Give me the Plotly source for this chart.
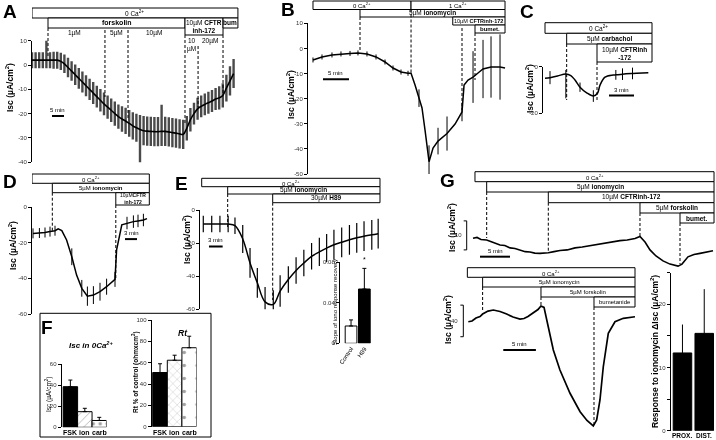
import plotly.graph_objects as go

W, H = 716, 440
FONT = "Liberation Sans, Arial, sans-serif"

# ---------------- data ----------------
# A: forskolin then CFTRinh-172 (time in min, Isc in uA/cm2, mean +- SEM)
tA = [0, 1.5, 3, 4.5, 6, 7.5, 9, 10.5, 12, 13.5, 15, 16.5, 18, 19.5, 21, 22.5, 24, 25.5, 27, 28.5,
      30, 31.5, 33, 34.5, 36, 37.5, 39, 40.5, 42, 43.5, 45, 46.5, 48, 49.5, 51, 52.5, 54, 55.5, 57, 58.5,
      60, 61.5, 63, 64.5, 66, 67.5, 69, 70.5, 72, 73.5, 75, 76.5, 78, 79.5, 81, 82.5, 84]
iscA = [2, 2, 2, 2, 2, 2, 2, 2, 1.5, 0.5,
        -1, -2.5, -4, -5.5, -7, -8.5, -10, -11.5, -13, -14.5,
        -16, -17.3, -18.6, -20, -21.2, -22.2, -23, -24, -25, -25.8,
        -26.5, -27, -27.2, -27.3, -27.4, -27.4, -27.3, -27.3, -27.5, -27.8,
        -28, -28.3, -28.5, -26, -22.5, -20, -18, -17, -16.2, -15.5,
        -14.8, -14, -13.5, -12.5, -9.5, -6.5, -3.5]
errA_up = [3.3, 3.3, 3.3, 3.3, 9, 3.3, 3.5, 3.5, 3.5, 3.8,
           4, 4, 4.2, 4.3, 4.3, 4.3, 4.4, 4.5, 4.5, 4.6,
           4.7, 4.8, 4.8, 5, 5, 5.2, 5.4, 5.5, 5.6, 5.8,
           6, 6, 6, 6, 6, 6, 11, 6, 6, 6,
           6, 6, 6, 5, 4.8, 4.5, 4.5, 4.5, 4.5, 4.5,
           4.5, 4.5, 4.8, 5, 5.5, 6, 6]
errA_dn = [3.3, 3.3, 3.3, 3.3, 3.3, 3.3, 3.5, 3.5, 3.5, 3.8,
           4, 4, 4.2, 4.3, 4.3, 4.3, 4.4, 4.5, 4.5, 4.6,
           4.7, 4.8, 4.8, 5, 5, 5.2, 5.4, 5.5, 5.6, 5.8,
           16, 6, 6, 6, 6, 6, 6, 6, 6, 6,
           6, 6, 6, 5, 4.8, 4.5, 4.5, 4.5, 4.5, 4.5,
           4.5, 4.5, 4.8, 5, 5.5, 6, 6]

# B: ionomycin in 0 Ca, then 1 Ca, CFTRinh-172, bumetanide
tB = [0, 1.73, 3.65, 5.38, 7.12, 8.65, 10.38, 12.12, 13.85, 15.38, 16.92, 18.27, 18.85, 19.62, 20.38,
      20.96, 21.54, 22.31, 23.08, 24.04, 25.77, 27.31, 28.65, 29.04, 29.81, 30.77, 31.73, 32.69,
      34.23, 35.96, 36.92]
iscB = [-4.6, -3.4, -2.6, -2.2, -2.0, -1.8, -2.2, -3.4, -5.4, -7.8, -9.4, -9.9, -9.9, -14.6, -19.8,
        -23.7, -32.5, -45.1, -39.7, -36.9, -33.9, -30.1, -25.3, -14.6, -12.6, -11.4, -9.8, -8.2,
        -7.4, -7.4, -7.8]
errB = [1, 1, 1, 1, 1, 1, 1, 1, 1, 1, 1, 1, 0, 0, 3.5,
        0, 0, 6.5, 0, 5.3, 6.8, 0, 3.7, 0, 0, 10.3, 0, 11.6,
        12.2, 13, 0]

# C: carbachol then CFTRinh-172
tC = [0, 0.6, 1.5, 2.5, 3.1, 3.6, 4.2, 5.0, 5.8, 6.3, 6.6, 7.2, 8.2, 8.5, 9.3, 10.5, 11.0, 12.4]
iscC = [-5.0, -4.7, -4.0, -3.1, -3.8, -5.7, -8.8, -11.2, -12.6, -11.4, -7.9, -4.5, -3.6, -3.5,
        -3.2, -2.9, -2.8, -2.6]
errC_up = [0, 2.8, 0, 1.7, 0, 0, 2, 0, 2.5, 0, 0, 0, 0, 2.1, 2.5, 2.5, 0, 0]
errC_dn = [0, 2.8, 0, 10.5, 0, 0, 2, 0, 2.5, 0, 0, 0, 0, 2.1, 2.5, 2.5, 0, 0]

# D: ionomycin then CFTRinh-172
tD = [0, 1.6, 3.0, 4.25, 5.5, 6.3, 7.2, 8.4, 9.7, 10.9, 12.2, 13.6, 15.1, 16.75, 18.4, 20.5, 20.9,
      22.2, 23.5, 25.1, 26.25, 27.6, 28.5]
iscD = [-14.8, -14.6, -14.3, -13.8, -13.3, -12.2, -13.2, -18.5, -27.9, -38.2, -45.6, -50, -49.4,
        -47.5, -44.7, -40.6, -24, -10, -9, -8.2, -7.8, -7.3, -6.5]
errD = [2.8, 2.8, 2.8, 2.8, 2.8, 0, 0, 0, 4.7, 0, 4.7, 5.4, 5, 5, 4.5, 4.2, 0,
        0, 3.5, 3.5, 3.5, 3.5, 0]

# E: ionomycin then H89
tE = [0.35, 2.2, 4.0, 5.8, 7.3, 9.0, 10.6, 12.2, 13.9, 15.7, 17.2, 19.0, 20.7, 22.4, 24.1, 25.8,
      27.4, 29.0, 30.7, 32.4, 34.0, 35.6, 37.3, 38.7]
iscE = [-8.4, -8.4, -8.4, -8.5, -9.5, -17.5, -32, -44, -55.5, -57, -49, -42, -36.5, -32, -28,
        -25.3, -23, -21, -19.5, -18, -16.8, -15.8, -15, -14.3]
errE = [5, 5, 5, 5, 5, 8.5, 9, 9, 9, 8.5, 9.5, 8, 8, 8, 8, 8.5, 8.5, 9, 9, 9, 9, 9, 9, 9]

# E inset: slope of ionomycin response recovery
slopeGroups = ["Control", "H89"]
slopeVals = [0.0171, 0.0536]
slopeErr = [0.006, 0.0204]

# F: Isc in 0 Ca and Rt
fGroups = ["FSK", "ion", "carb"]
iscF = [38.7, 14.9, 6.5]
iscF_err = [6.3, 3.2, 3]
rtF = [50.8, 62.3, 74]
rtF_err = [8.2, 4.7, 10.8]

# G: single traces (relative Isc) and proximal vs distal response
tGt = [0, 0.67, 1.33, 2.28, 3.17, 4.5, 5.3, 6.17, 7.0, 7.83, 8.7, 9.5, 10.3, 11.17, 12.55, 13.5,
       14.5, 15.7, 17, 18.2, 19.5, 20.7, 22, 23.2, 24.5, 25.7, 27, 27.83, 28.67, 29.5, 30.5, 31.67,
       32.83, 34.17, 34.83, 35.83, 36.83, 37.83, 39, 40]
iscGt = [0, 0.3, -0.4, -0.6, -1.3, -2.3, -2.5, -3.3, -3.5, -4.0, -4.6, -4.7, -5.1, -5.2, -5.0, -4.6,
         -4.2, -4.0, -3.3, -3.0, -2.5, -2.2, -1.6, -1.3, -0.8, -0.6, -0.1, 0.6, -1.3, -4.0, -6.1,
         -7.8, -8.9, -9.6, -8.9, -6.4, -5.6, -5.2, -4.7, -4.3]
tGb = [0, 0.57, 1.18, 1.8, 2.2, 3.03, 3.85, 4.88, 5.9, 6.88, 7.95, 8.57, 9.18, 9.95, 10.72, 11.18,
       11.65, 12.3, 13.08, 14.1, 15.65, 17.2, 18.26, 19.23, 19.75, 20.26, 20.77, 21.54, 22.57,
       23.85, 24.88, 25.65]
iscGb = [0, 0.9, 4.7, 6.6, 9.7, 13.5, 14.8, 12.9, 9.7, 5.9, 3.4, 4.1, 6.6, 11.0, 15.4, 19.9, 18.2,
         -6.3, -35.8, -61.1, -90.6, -113.9, -125, -132, -124.4, -99.1, -57, -14.7, 0, 4.3, 5.9, 6.3]
gGroups = ["PROX.", "DIST."]
respG = [12.3, 15.4]
respG_err = [4.5, 7.0]

# drug addition times (min) for the dashed lines
eventsA = [6.67, 30.4, 40.0, 63.75, 69.2, 79.6]
eventsB = [9.04, 18.85, 28.65, 31.15]
eventsC = [2.6, 6.24]
eventsD = [4.83, 20.7]
eventsE = [5.7, 15.57]
eventsGt = [2.28, 12.55, 27.83, 34.5]
eventsGb = [2.2, 11.18, 19.34]


# ---------------- helpers ----------------
def fx(p):
    return p / W


def fy(p):
    return 1 - p / H


def ref(n):
    return "" if n == 1 else str(n)


fig = go.Figure()
shapes, notes, axcfg = [], [], {}


def panel(n, xpx, ypx, xr, yr, tickv=None, tickt=None, hidey=False, cats=None,
          catsize=6, tickangle=0, catlabels=False):
    a = ref(n)
    axcfg["xaxis" + a] = dict(domain=[fx(xpx[0]), fx(xpx[1])], range=xr, anchor="y" + a,
                              visible=cats is not None, showgrid=False, zeroline=False,
                              showline=False, ticks="", tickangle=tickangle,
                              showticklabels=catlabels, automargin=False,
                              tickvals=cats, ticktext=cats, fixedrange=True,
                              tickfont=dict(size=catsize, color="black"))
    axcfg["yaxis" + a] = dict(domain=[fy(ypx[1]), fy(ypx[0])], range=yr, anchor="x" + a,
                              visible=not hidey, showgrid=False, zeroline=False, showline=True,
                              linecolor="black", linewidth=1, ticks="outside", ticklen=3,
                              tickcolor="black", tickvals=tickv, ticktext=tickt,
                              automargin=False, tickfont=dict(size=6, color="#333"))


def trace(n, t, v, up, dn, ecol="black", eth=1, width=1.4, shape="linear"):
    a = ref(n)
    fig.add_trace(go.Scatter(x=t, y=v, xaxis="x" + a, yaxis="y" + a, mode="lines",
                             line=dict(color="black", width=width, shape=shape),
                             error_y=dict(type="data", symmetric=False, array=up, arrayminus=dn,
                                          color=ecol, thickness=eth, width=0),
                             hoverinfo="skip"))


def bars(n, cats, vals, err, colors, patt, width, psize=8, psol=0.3, cap=2):
    a = ref(n)
    fig.add_trace(go.Bar(x=cats, y=vals, xaxis="x" + a, yaxis="y" + a, width=width,
                         marker=dict(color=colors, line=dict(color="black", width=1),
                                     pattern=dict(shape=patt, fgcolor="black", size=psize,
                                                  solidity=psol, fillmode="overlay")),
                         error_y=dict(type="data", symmetric=False, array=err,
                                      arrayminus=[0] * len(err), color="black",
                                      thickness=1, width=cap),
                         hoverinfo="skip"))


def catlabels(n, cats, yp, size=7):
    a = ref(n)
    for c in cats:
        notes.append(dict(x=c, y=fy(yp), xref="x" + a, yref="paper", text="<b>" + c + "</b>",
                          showarrow=False, font=dict(size=size, color="black"),
                          xanchor="center", yanchor="middle"))


def cbox(n, t0, t1, y0, y1, text, size=6.5):
    a = ref(n)
    shapes.append(dict(type="rect", xref="x" + a, yref="paper", x0=t0, x1=t1, y0=fy(y1),
                       y1=fy(y0), line=dict(color="black", width=1), fillcolor="white",
                       layer="above"))
    notes.append(dict(x=(t0 + t1) / 2, y=fy((y0 + y1) / 2), xref="x" + a, yref="paper",
                      text=text, showarrow=False, font=dict(size=size, color="black"),
                      xanchor="center", yanchor="middle"))


def vline(n, t, y0, y1):
    a = ref(n)
    shapes.append(dict(type="line", xref="x" + a, yref="paper", x0=t, x1=t, y0=fy(y0),
                       y1=fy(y1), line=dict(color="black", width=1, dash="3px,2px")))


def scalebar(n, t0, t1, v, label):
    a = ref(n)
    shapes.append(dict(type="line", xref="x" + a, yref="y" + a, x0=t0, x1=t1, y0=v, y1=v,
                       line=dict(color="black", width=2)))
    notes.append(dict(x=(t0 + t1) / 2, y=v, xref="x" + a, yref="y" + a, text=label,
                      showarrow=False, font=dict(size=6, color="black"), yanchor="bottom",
                      yshift=1))


def bracket(n, t, v0, v1, tick, label, labelv):
    a = ref(n)
    shapes.append(dict(type="path", xref="x" + a, yref="y" + a,
                       path=f"M{t - tick},{v1} L{t},{v1} L{t},{v0} L{t - tick},{v0}",
                       line=dict(color="black", width=1)))
    notes.append(dict(x=t, y=labelv, xref="x" + a, yref="y" + a, text=label, showarrow=False,
                      font=dict(size=6, color="#333"), xanchor="right", xshift=-3))


def text(xp, yp, s, size=8.5, angle=0, **kw):
    notes.append(dict(x=fx(xp), y=fy(yp), xref="paper", yref="paper", text=s, showarrow=False,
                      font=dict(size=size, color="black"), textangle=angle,
                      xanchor="center", yanchor="middle", **kw))


ISC = "<b>Isc (µA/cm<sup>2</sup>)</b>"
CA0 = "0 Ca<sup>2+</sup>"

# ---------------- A ----------------
panel(1, [32, 240], [40.7, 162.3], [0, 86.67], [-40, 10],
      [-40, -30, -20, -10, 0, 10], ["-40", "-30", "-20", "-10", "0", "10"])
trace(1, tA, iscA, errA_up, errA_dn, ecol="#4a4a4a", eth=2.4, width=1.6, shape="spline")
cbox(1, 0, 85.8, 8, 18, CA0)
cbox(1, 6.67, 63.75, 18, 28, "<b>forskolin</b>", 7)
cbox(1, 63.75, 79.6, 18, 35, "10µM <b>CFTR</b><br><b>inh-172</b>", 6.5)
cbox(1, 79.6, 85.8, 18, 28, "<b>bum</b>", 6.5)
for t, y1 in zip(eventsA, [57, 97, 118, 125, 107, 95]):
    vline(1, t, {6.67: 28, 63.75: 35, 79.6: 35, 69.2: 46}.get(t, 30), y1)
for lab, t, y in [("1µM", 17.5, 33), ("5µM", 35, 33), ("10µM", 51, 33),
                  ("10<br>µM", 66.3, 45), ("20µM", 74.2, 41)]:
    notes.append(dict(x=t, y=fy(y), xref="x", yref="paper", text=lab, showarrow=False,
                      font=dict(size=6.5, color="black"), xanchor="center", yanchor="middle"))
scalebar(1, 8.33, 13.33, -21, "5 min")
text(10, 88, ISC, angle=-90)
text(10, 11, "<b>A</b>", size=19)

# ---------------- B ----------------
panel(2, [308, 507], [23.3, 174], [-0.96, 37.3], [-50, 10],
      [-50, -40, -30, -20, -10, 0, 10], ["-50", "-40", "-30", "-20", "-10", "0", "10"])
trace(2, tB, iscB, errB, errB, width=1.5)
cbox(2, 0, 18.85, 1, 9.5, CA0, 6)
cbox(2, 18.85, 36.92, 1, 9.5, "1 Ca<sup>2+</sup>", 6)
cbox(2, 9.04, 36.92, 9.5, 17, "5µM <b>ionomycin</b>", 6.5)
cbox(2, 26.87, 36.92, 17, 25, "10µM <b>CFTRinh-172</b>", 5.5)
cbox(2, 31.15, 36.92, 25, 33, "<b>bumet.</b>", 6)
for t, y0, y1 in zip(eventsB, [17, 9.5, 28, 33], [50, 73, 110, 80]):
    vline(2, t, y0, y1)
scalebar(2, 1.92, 6.92, -12.3, "5 min")
text(290, 95, ISC, angle=-90)
text(288, 9, "<b>B</b>", size=19)

# ---------------- C ----------------
panel(3, [543, 653], [66.7, 113.3], [-0.24, 12.96], [-20, 0], [-20, 0], ["-20", "0"])
trace(3, tC, iscC, errC_up, errC_dn, width=1.5, shape="spline")
cbox(3, 0, 12.84, 22.7, 33.3, CA0)
cbox(3, 2.6, 12.84, 33.3, 44, "5µM <b>carbachol</b>")
cbox(3, 6.24, 12.84, 44, 62, "10µM <b>CFTRinh</b><br><b>-172</b>", 6.5)
for t, y0 in zip(eventsC, [44, 62]):
    vline(3, t, y0, 100)
scalebar(3, 7.68, 10.68, -12.4, "3 min")
text(529, 89, ISC, angle=-90)
text(527, 11, "<b>C</b>", size=19)

# ---------------- D ----------------
panel(4, [32, 150], [207, 314], [-0.25, 29.25], [-60, 0],
      [-60, -40, -20, 0], ["-60", "-40", "-20", "0"])
trace(4, tD, iscD, errD, errD, width=1.5)
cbox(4, -0.25, 29.08, 174, 183.3, CA0, 6)
cbox(4, 4.83, 29.08, 183.3, 192.7, "5µM <b>ionomycin</b>", 6)
cbox(4, 20.7, 29.08, 192.7, 205, "10µM<b>CFTR</b><br><b>inh-172</b>", 5)
for t, y0, y1 in zip(eventsD, [192.7, 205], [232, 280]):
    vline(4, t, y0, y1)
scalebar(4, 23, 26, -18, "3 min")
text(12, 246, ISC, angle=-90)
text(10, 182, "<b>D</b>", size=19)

# ---------------- E ----------------
panel(5, [200, 382], [210, 309.3], [-0.37, 39.54], [-60, 0],
      [-60, -40, -20, 0], ["-60", "-40", "-20", "0"])
trace(5, tE, iscE, errE, errE, eth=1.2, width=1.5, shape="spline")
cbox(5, 0, 39.1, 178.3, 186.7, CA0, 6)
cbox(5, 5.7, 39.1, 186.7, 194, "5µM <b>ionomycin</b>", 6.5)
cbox(5, 15.57, 39.1, 194, 202.7, "30µM <b>H89</b>", 6.5)
for t, y0, y1 in zip(eventsE, [194, 202.7], [228, 300]):
    vline(5, t, y0, y1)
scalebar(5, 1.6, 4.6, -22, "3 min")
text(187, 240, ISC, angle=-90)
text(181, 183, "<b>E</b>", size=19)

# E inset
panel(6, [340, 371], [262.3, 343.3], [-0.83, 1.5], [0, 0.08],
      [0, 0.04, 0.08], ["0", "0.04", "0.08"], cats=slopeGroups,
      catsize=6, tickangle=-55, catlabels=True)
bars(6, slopeGroups, slopeVals, slopeErr, ["white", "black"], ["", ""], 0.88)
notes.append(dict(x="H89", y=0.0775, xref="x6", yref="y6", text="*", showarrow=False,
                  font=dict(size=7, color="black"), yanchor="bottom"))
text(335, 302, "Slope of iono response recovery", size=6, angle=-90)

# ---------------- F ----------------
shapes.append(dict(type="rect", xref="paper", yref="paper", x0=fx(40), x1=fx(211),
                   y0=fy(437), y1=fy(313.3), line=dict(color="black", width=1)))
panel(7, [61.7, 106.5], [364.3, 427.3], [-0.6, 2.5], [0, 60],
      [0, 20, 40, 60], ["0", "20", "40", "60"], cats=fGroups)
bars(7, fGroups, iscF, iscF_err, ["black", "white", "white"], ["", "/", "."], 1,
     psize=[8, 6, 7], psol=[0.3, 0.12, 0.2])
catlabels(7, fGroups, 432.5)
panel(8, [151.7, 196.5], [320, 426.7], [-0.57, 2.5], [0, 100],
      [0, 20, 40, 60, 80, 100], ["0", "20", "40", "60", "80", "100"], cats=fGroups)
bars(8, fGroups, rtF, rtF_err, ["black", "white", "white"], ["", "x", "."], 1,
     psize=[8, 6, 13], psol=[0.3, 0.1, 0.06])
catlabels(8, fGroups, 432.5)
text(91, 345, "<b><i>Isc in 0Ca<sup>2+</sup></i></b>", size=8)
text(183, 333, "<b><i>Rt</i></b>", size=8.5)
text(48, 394, "Isc (µA/cm<sup>2</sup>)", size=6.5, angle=-90)
text(135, 372, "<b>Rt % of control (ohmxcm<sup>2</sup>)</b>", size=6.5, angle=-90)
text(47, 327, "<b>F</b>", size=19)

# ---------------- G ----------------
panel(9, [455, 716], [215, 270], [-3, 40.5], [-10.93, 8.03], hidey=True)
trace(9, tGt, iscGt, [0] * len(tGt), [0] * len(tGt), width=1.6)
cbox(9, 0.33, 40.17, 171.7, 181.7, CA0, 6)
cbox(9, 2.28, 40.17, 181.7, 192, "5µM <b>ionomycin</b>", 6.5)
cbox(9, 12.55, 40.17, 192, 202.7, "10µM <b>CFTRinh-172</b>", 6.5)
cbox(9, 27.83, 40.17, 202.7, 213, "5µM <b>forskolin</b>", 6.5)
cbox(9, 34.5, 40.17, 213, 223, "<b>bumet.</b>", 6.5)
for t, y0, y1 in zip(eventsGt, [192, 202.7, 213, 223], [238, 252, 236, 264]):
    vline(9, t, y0, y1)
scalebar(9, 1.17, 6.17, -6.34, "5 min")
bracket(9, -1.05, -4, 6, 0.5, "10", 1)
text(451, 228, ISC, angle=-90)
text(447, 180, "<b>G</b>", size=19)

panel(10, [455, 640], [300, 430], [-2.05, 26.42], [-137.1, 27.5], hidey=True)
trace(10, tGb, iscGb, [0] * len(tGb), [0] * len(tGb), width=1.7)
cbox(10, -0.15, 25.65, 267.7, 277.3, CA0, 6)
cbox(10, 2.2, 25.65, 277.3, 287, "5µM ionomycin", 6)
cbox(10, 11.18, 25.65, 287, 297, "5µM forskolin", 6)
cbox(10, 19.34, 25.65, 297, 307, "bumetanide", 6)
for t, y0, y1 in zip(eventsGb, [287, 297, 307], [312, 305, 425]):
    vline(10, t, y0, y1)
scalebar(10, 5.38, 10.4, -35.8, "5 min")
bracket(10, -0.77, -19, 21, 0.45, "40", 1)
text(447, 320, ISC, angle=-90)

panel(11, [670.7, 716], [272.7, 430.7], [-0.54, 1.54], [0, 25],
      [0, 5, 10, 15, 20, 25], ["0", "", "10", "", "20", ""], cats=gGroups)
bars(11, gGroups, respG, respG_err, ["black", "black"], ["", ""], 0.85, cap=0)
catlabels(11, gGroups, 435.5, size=6.5)
text(654, 352, "<b>Response to ionomycin ΔIsc (µA/cm<sup>2</sup>)</b>", size=8.5, angle=-90)

fig.update_layout(template="none", width=W, height=H, margin=dict(l=0, r=0, t=0, b=0, pad=0),
                  paper_bgcolor="white", plot_bgcolor="white", showlegend=False,
                  font=dict(family=FONT, color="black", size=7),
                  shapes=shapes, annotations=notes, **axcfg)
# the page body has a default 8px margin; drop it so the figure sits at the window corner,
# and render greyscale like the original print figure
fig.write_html("out.html", config={"displayModeBar": False, "staticPlot": True},
               post_script="document.body.style.margin='0';"
                           "document.body.style.filter='grayscale(1)';")
